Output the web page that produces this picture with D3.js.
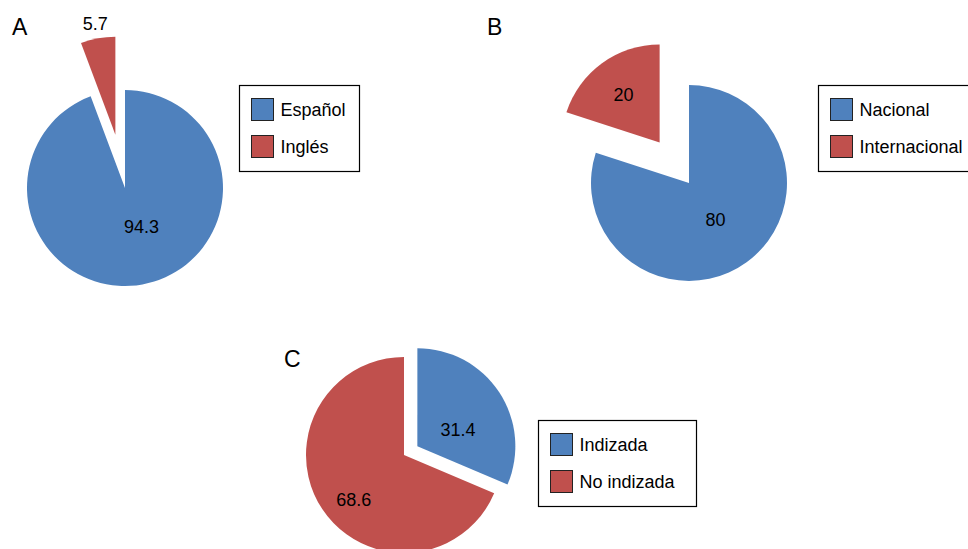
<!DOCTYPE html>
<html>
<head>
<meta charset="utf-8">
<script src="https://cdn.jsdelivr.net/npm/d3@7"></script>
<style>
  body { margin: 0; background: #fff; }
  text { font-family: 'Liberation Sans', Arial, Helvetica, sans-serif; fill: #000; }
</style>
</head>
<body>
<script>
var width = 968,
  height = 549,
  radius = 98

// data
var idiomaLabels = ['Español', 'Inglés']
var idiomaValues = [94.3, 5.7]

var origenLabels = ['Nacional', 'Internacional']
var origenValues = [80, 20]

var indizacionLabels = ['Indizada', 'No indizada']
var indizacionValues = [31.4, 68.6]

var colors = ['#4F81BD', '#C0504D']

// layout of each panel (centre, exploded slice, label distance / angle shift, legend box)
var panels = [
  { letter: 'A', lx: 12, ly: 35, cx: 125, cy: 188, labels: idiomaLabels, values: idiomaValues,
    explode: [0, 54], labelR: [42, 113], labelTurn: [-13, 0], legend: { x: 239.5, y: 85.5, w: 120, h: 86 } },
  { letter: 'B', lx: 487, ly: 34.5, cx: 689, cy: 183, labels: origenLabels, values: origenValues,
    explode: [0, 50], labelR: [45, 60], labelTurn: [0, -1], legend: { x: 818.5, y: 85.5, w: 170, h: 86 } },
  { letter: 'C', lx: 284, ly: 366.5, cx: 404, cy: 455, labels: indizacionLabels, values: indizacionValues,
    explode: [16, 0], labelR: [44, 67], labelTurn: [11, -8], legend: { x: 538.5, y: 420.5, w: 158, h: 86 } }
]

var color = d3.scaleOrdinal().range(colors)

var pie = d3.pie()
  .sort(null)
  .value(function (d) { return d })

var arc = d3.arc()
  .innerRadius(0)
  .outerRadius(radius)

var svg = d3.select('body').append('svg')
  .attr('width', width)
  .attr('height', height)

function offset (d, r, turn) {
  var a = (d.startAngle + d.endAngle) / 2 + (turn || 0) * Math.PI / 180
  return [Math.sin(a) * r, -Math.cos(a) * r]
}

panels.forEach(function (p) {
  svg.append('text')
    .attr('x', p.lx)
    .attr('y', p.ly)
    .style('font-size', '23px')
    .text(p.letter)

  var g = svg.append('g')
    .attr('transform', 'translate(' + p.cx + ',' + p.cy + ')')

  var slices = g.selectAll('.slice')
    .data(pie(p.values))
    .enter().append('g')
    .attr('class', 'slice')
    .attr('transform', function (d, i) {
      return 'translate(' + offset(d, p.explode[i]) + ')'
    })

  slices.append('path')
    .attr('d', arc)
    .style('fill', function (d, i) { return color(i) })

  slices.append('text')
    .attr('transform', function (d, i) { return 'translate(' + offset(d, p.labelR[i], p.labelTurn[i]) + ')' })
    .attr('text-anchor', 'middle')
    .attr('dy', '.35em')
    .style('font-size', '18px')
    .text(function (d) { return d.data })

  var lg = svg.append('g')
    .attr('transform', 'translate(' + p.legend.x + ',' + p.legend.y + ')')

  lg.append('rect')
    .attr('width', p.legend.w)
    .attr('height', p.legend.h)
    .style('fill', '#fff')
    .style('stroke', '#000')
    .style('stroke-width', 1.2)

  var item = lg.selectAll('.item')
    .data(p.labels)
    .enter().append('g')
    .attr('class', 'item')
    .attr('transform', function (d, i) { return 'translate(12,' + (13 + i * 37) + ')' })

  item.append('rect')
    .attr('width', 22)
    .attr('height', 22)
    .style('fill', function (d, i) { return color(i) })
    .style('stroke', '#222')
    .style('stroke-width', 1)

  item.append('text')
    .attr('x', 29)
    .attr('y', 11)
    .attr('dy', '.35em')
    .style('font-size', '18px')
    .text(function (d) { return d })
})
</script>
</body>
</html>
